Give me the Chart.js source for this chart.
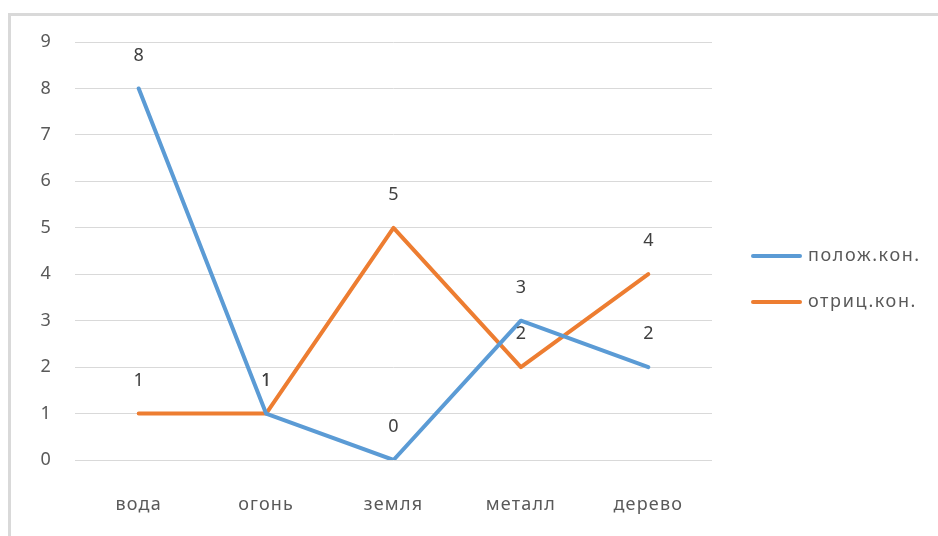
<!DOCTYPE html>
<html>
<head>
<meta charset="utf-8">
<script src="https://cdn.jsdelivr.net/npm/chart.js@4"></script>
<style>
  html, body { margin: 0; padding: 0; background: #fff; overflow: hidden; }
  #frame { position: absolute; left: 8px; top: 13px; width: 940px; height: 540px;
           border-left: 3px solid #d9d9d9; border-top: 3px solid #d9d9d9; }
  #chart { position: absolute; left: 0; top: 0; }
</style>
</head>
<body>
<div id="frame"></div>
<canvas id="chart" width="938" height="536"></canvas>
<script>
const categories = ['вода', 'огонь', 'земля', 'металл', 'дерево'];
const seriesNames = ['полож.кон.', 'отриц.кон.'];
const positive = [8, 1, 0, 3, 2];
const negative = [1, 1, 5, 2, 4];
const yTicks = [0, 1, 2, 3, 4, 5, 6, 7, 8, 9];

const FONT = '"Noto Sans", "Liberation Sans", sans-serif';

// wider letter spacing, closer to the original rendering
const spacing = {
    id: 'spacing',
    beforeDraw(chart){ chart.ctx.letterSpacing = '1.2px'; }
};

// value labels above each point
const valueLabels = {
    id: 'valueLabels',
    afterDatasetsDraw(chart){
        const ctx = chart.ctx;
        ctx.save();
        ctx.letterSpacing = '0px';
        ctx.font = '18px ' + FONT;
        ctx.fillStyle = '#404040';
        ctx.textAlign = 'center';
        ctx.textBaseline = 'middle';
        chart.data.datasets.forEach((ds, i)=>{
            chart.getDatasetMeta(i).data.forEach((pt, j)=>{
                ctx.fillText(String(ds.data[j]), pt.x, pt.y - 33);
            });
        });
        ctx.restore();
    }
};

// legend on the right, drawn by hand for exact placement
const sideLegend = {
    id: 'sideLegend',
    afterDraw(chart){
        const ctx = chart.ctx;
        ctx.save();
        ctx.letterSpacing = '1.6px';
        ctx.font = '18px ' + FONT;
        ctx.textAlign = 'left';
        ctx.textBaseline = 'middle';
        chart.data.datasets.forEach((ds, i)=>{
            const y = 256 + i * 46;
            ctx.strokeStyle = ds.borderColor;
            ctx.lineWidth = 4;
            ctx.lineCap = 'round';
            ctx.beginPath();
            ctx.moveTo(753, y);
            ctx.lineTo(800, y);
            ctx.stroke();
            ctx.fillStyle = '#595959';
            ctx.fillText(ds.label, 808, y);
        });
        ctx.restore();
    }
};

const chartCtx = document.getElementById('chart').getContext('2d');
const myChart = new Chart(chartCtx, {
    type: 'line',
    data: {
        labels: categories,
        datasets: [{
            label: seriesNames[0],
            data: positive,
            borderColor: '#5b9bd5',
            borderWidth: 4,
            pointRadius: 0,
            tension: 0,
            borderCapStyle: 'round',
            borderJoinStyle: 'round'
        }, {
            label: seriesNames[1],
            data: negative,
            borderColor: '#ed7d31',
            borderWidth: 4,
            pointRadius: 0,
            tension: 0,
            borderCapStyle: 'round',
            borderJoinStyle: 'round'
        }]
    },
    options: {
        responsive: false,
        animation: false,
        layout: { padding: { left: 0, top: 42, right: 226, bottom: 0 } },
        plugins: { legend: { display: false }, tooltip: { enabled: false } },
        scales: {
            x: {
                offset: true,
                grid: { display: false },
                border: { display: false },
                ticks: { color: '#595959', font: { family: FONT, size: 18 }, padding: 26 },
                afterFit(scale){ scale.height = 76; }
            },
            y: {
                min: yTicks[0],
                max: yTicks[yTicks.length - 1],
                afterBuildTicks(scale){ scale.ticks = yTicks.map(v=>({ value: v })); },
                grid: { color: '#d9d9d9', lineWidth: 1, drawTicks: false },
                border: { display: false },
                ticks: { color: '#595959', font: { family: FONT, size: 18 }, padding: 23 },
                afterFit(scale){ scale.width = 75; }
            }
        }
    },
    plugins: [spacing, valueLabels, sideLegend]
});
</script>
</body>
</html>
